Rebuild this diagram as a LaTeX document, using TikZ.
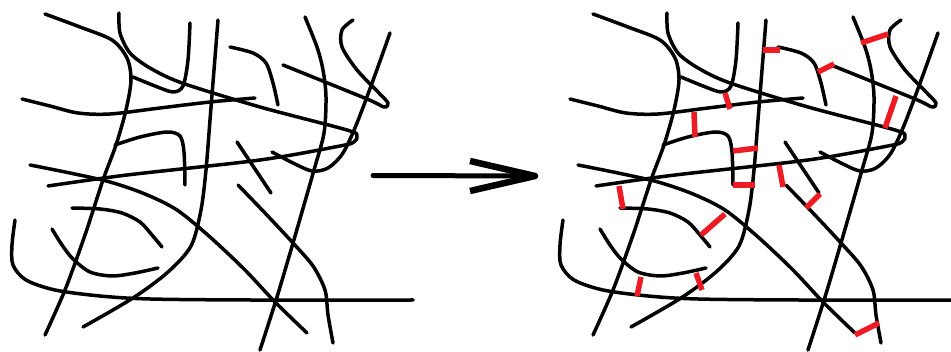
\documentclass[tikz,border=0pt]{standalone}
\definecolor{linkred}{RGB}{237,28,36}
\tikzset{
  blk/.style={line width=3.5pt, line cap=round, line join=round, draw=black},
  redlink/.style={line width=5.5pt, draw=linkred, line cap=butt},
  arrowshaft/.style={line width=5pt, line cap=round, draw=black},
  arrowhead/.style={line width=6.5pt, line cap=butt, line join=round, draw=black}
}
\newcommand{\mystrands}{%
  % C1
  \draw[blk] plot[smooth] coordinates {(45,14) (80,27) (112,40) (127,58) (131,80) (126,110) (116,145) (103,180) (85,235) (65,290) (45,335)};
  % C2 hairpin
  \draw[blk] plot[smooth] coordinates {(119,13) (120,33) (130,53) (150,68) (182,83) (260,107) (347,130) (357,136) (354,142) (340,146) (260,160) (127,175) (48,186)};
  % C3
  \draw[blk] plot[smooth] coordinates {(190,23) (188,60) (183,86) (173,92) (155,86) (133,77)};
  % C4
  \draw[blk] plot[smooth] coordinates {(22,99) (50,106) (78,113) (110,114) (160,108) (210,102) (255,98)};
  % C5
  \draw[blk] plot[smooth] coordinates {(115,145) (140,137) (167,132) (180,136) (184,152) (185,185)};
  % C6
  \draw[blk] plot[smooth] coordinates {(30,165) (70,173) (110,182) (145,194) (177,210) (210,237) (245,270) (275,302) (307,333)};
  % C7
  \draw[blk] plot[smooth] coordinates {(72,208) (100,209) (122,213) (140,222) (152,235) (162,247)};
  % C8
  \draw[blk] plot[smooth] coordinates {(52,229) (62,245) (73,259) (90,272) (112,276) (135,273) (158,268)};
  % C9
  \draw[blk] plot[smooth] coordinates {(15,220) (12,245) (13,265) (26,280) (55,290) (100,296) (150,299) (250,300) (413,300)};
  % C10
  \draw[blk] plot[smooth] coordinates {(218,20) (214,70) (210,120) (206,170) (201,210) (191,246) (168,272) (133,298) (83,327)};
  % C11
  \draw[blk] plot[smooth] coordinates {(230,47) (253,53) (266,63) (273,83) (278,105)};
  % C12
  \draw[blk] plot[smooth] coordinates {(305,17) (317,47) (323,70) (326,97) (324,133) (314,170) (293,243) (277,297) (260,350)};
  % C13
  \draw[blk] plot[smooth] coordinates {(353,20) (342,30) (342,47) (357,70) (378,92) (388,103) (384,107) (367,99) (283,65)};
  % C14
  \draw[blk] plot[smooth] coordinates {(390,33) (375,75) (357,123) (343,153) (328,168) (312,171) (293,163) (272,152)};
  % C15
  \draw[blk] (237,142) -- (271,193);
  % C16
  \draw[blk] plot[smooth] coordinates {(238,185) (265,213) (293,243) (313,266) (325,290) (328,315) (333,343)};
}
\begin{document}
\begin{tikzpicture}[x=1pt,y=-1pt]
  \useasboundingbox (0,0) rectangle (951,352);
  \fill[white] (0,0) rectangle (951,352);
  \clip (0,0) rectangle (951,352);
  % left panel
  \mystrands
  % arrow
  \coordinate (atail) at (373,175.5);
  \coordinate (atip) at (535,176);
  \coordinate (aup) at (470,161);
  \coordinate (alow) at (470,191);
  \draw[arrowshaft] (atail) -- (atip);
  \draw[arrowhead] (aup) -- (atip) -- (alow);
  % right panel
  \begin{scope}[xshift=548pt]
    \mystrands
  \end{scope}
  % red links
  \draw[redlink] (725,93) -- (730,109);
  \draw[redlink] (694,112) -- (695,137);
  \draw[redlink] (733,151) -- (758,148);
  \draw[redlink] (733,185) -- (755,185);
  \draw[redlink] (763,50) -- (780,50);
  \draw[redlink] (818,72) -- (834,64);
  \draw[redlink] (861,43) -- (888,34);
  \draw[redlink] (896,96) -- (885,128);
  \draw[redlink] (779,165) -- (783,187);
  \draw[redlink] (806,208) -- (820,194);
  \draw[redlink] (619,186) -- (623,209);
  \draw[redlink] (701,235) -- (725,214);
  \draw[redlink] (641,277) -- (637,296);
  \draw[redlink] (696,273) -- (702,290);
  \draw[redlink] (855,335) -- (879,323);
\end{tikzpicture}
\end{document}
